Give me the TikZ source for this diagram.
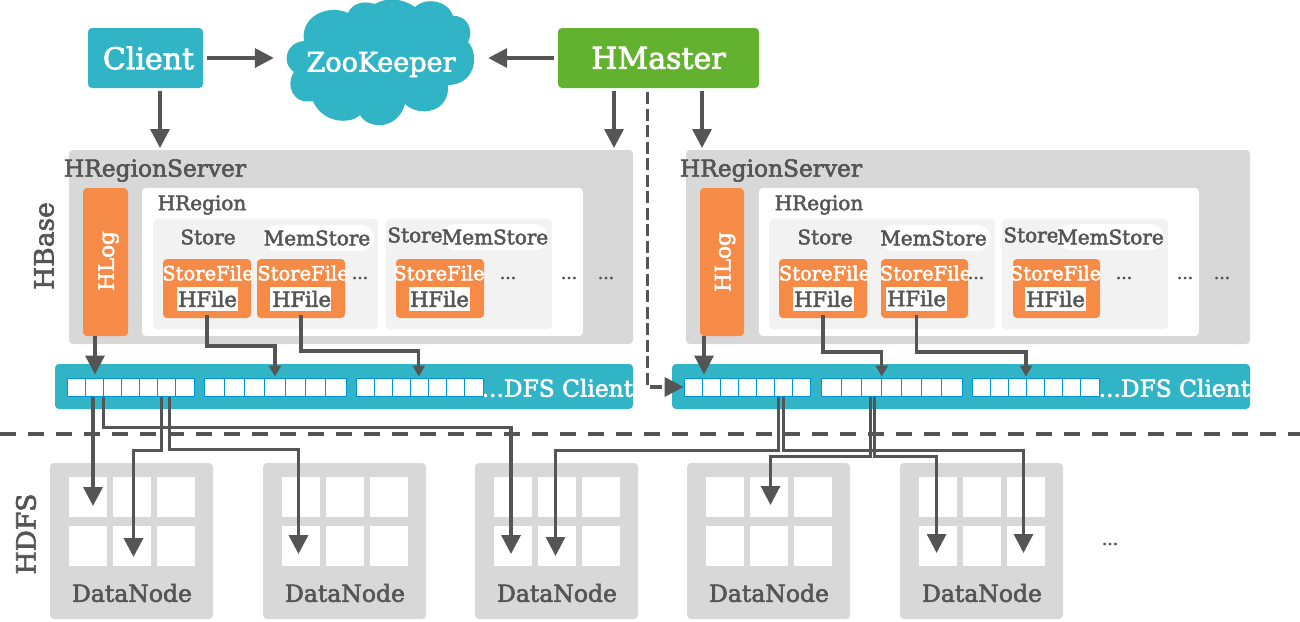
\documentclass[tikz,border=0pt]{standalone}
\usepackage{fontspec}
\setmainfont{DejaVu Serif}[FakeBold=2.5]
\usetikzlibrary{arrows.meta}
\definecolor{teal}{HTML}{31B4C6}
\definecolor{leaf}{HTML}{62B22F}
\definecolor{tang}{HTML}{F58B47}
\definecolor{box}{HTML}{D8D8D8}
\definecolor{pale}{HTML}{F2F2F2}
\definecolor{ink}{HTML}{555555}
\definecolor{wire}{HTML}{0095D9}
\newcommand{\sz}[1]{\fontsize{#1}{#1}\selectfont}

\begin{document}
\begin{tikzpicture}[x=1pt,y=-1pt]

		\useasboundingbox (0,0) rectangle (1300,621);
		\tikzset{block/.style = {shape=rectangle,rounded corners=4pt,inner sep=0pt,outer sep=0pt}}
		\tikzset{tag/.style = {inner sep=0pt,outer sep=0pt,text=ink}}
		\tikzset{server/.style = {block,fill=box,minimum width=564pt,minimum height=194pt}}
		\tikzset{hlog/.style = {block,fill=tang,text=white,font=\sz{21.5},minimum height=148pt}}
		\tikzset{region/.style = {block,fill=white,minimum height=148pt}}
		\tikzset{store/.style = {block,fill=pale,minimum height=110pt}}
		\tikzset{mem/.style = {shape=rectangle,rounded corners=13pt,inner sep=0pt,fill=white,text=ink,font=\sz{20},minimum height=26pt}}
		\tikzset{sfile/.style = {block,fill=tang,minimum height=59pt}}
		\tikzset{sftag/.style = {tag,text=white,font=\sz{19.5}}}
		\tikzset{hfile/.style = {inner sep=0pt,fill=white,text=ink,font=\sz{21},minimum width=61pt,minimum height=24pt}}
		\tikzset{dfs/.style = {block,fill=teal,minimum width=578pt,minimum height=45pt}}
		\tikzset{cell/.style = {shape=rectangle,draw=wire,line width=1pt,fill=white,inner sep=0pt,minimum height=18pt}}
		\tikzset{cella/.style = {cell,minimum width=18.1pt}}
		\tikzset{cellb/.style = {cell,minimum width=20.2pt}}
		\tikzset{datanode/.style = {block,fill=box,minimum width=163pt,minimum height=156pt}}
		\tikzset{slot/.style = {shape=rectangle,fill=white,inner sep=0pt,minimum width=38pt,minimum height=40pt}}
		\tikzset{edge/.style = {-{Triangle[width=19pt,length=19pt]},ink,line width=3.5pt}}
		\tikzset{route/.style = {edge,line width=3pt}}
		\tikzset{small/.style = {-{Triangle[width=12pt,length=11pt]},ink,line width=3.3pt}}
		% top row
		\node[block, fill = teal, text=white, font=\sz{30}, minimum width=115pt, minimum height=60pt] (client) at (145.5,58) {\hspace*{6pt}\raisebox{-1pt}{Client}};
		\node[block, fill = leaf, text=white, font=\sz{30}, minimum width=201pt, minimum height=60pt] (hmaster) at (658.5,58) {HMaster};
		\fill[teal] (304,41) .. controls (287,42) and (280,62) .. (294,72)
			.. controls (285,85) and (293,105) .. (313,101)
			.. controls (322,123) and (350,125) .. (360,115)
			.. controls (368,130) and (398,130) .. (405,104)
			.. controls (420,118) and (450,112) .. (448,85)
			.. controls (475,85) and (480,55) .. (468,42)
			.. controls (475,28) and (465,15) .. (453,16)
			.. controls (448,0) and (425,-3) .. (415,7)
			.. controls (400,-3) and (385,-2) .. (375,4)
			.. controls (362,0) and (352,4) .. (348,13)
			.. controls (330,4) and (300,15) .. (304,41) -- cycle;
		\node[inner sep=0pt, text=white, font=\sz{27}, minimum width=214pt] (zookeeper) at (381,64.5) {ZooKeeper};
		% First server
		\node[server] (hrs1) at (351,247) {};
		\node[tag, font=\sz{23.3}] (hrs1t) at (155,170.5) {HRegionServer};
		\node[hlog, minimum width=45pt] (hlog1) at (105.5,262) {\hspace*{6pt}\raisebox{2pt}{\rotatebox{90}{HLog}}};
		\node[region, minimum width=441pt] (hreg1) at (362.5,262) {};
		\node[tag, font=\sz{20}] (hreg1t) at (202,205) {HRegion};
		\node[store, minimum width=225pt] (st11) at (265.5,274) {};
		\node[store, minimum width=166pt] (st12) at (469,274) {};
		\node[tag, font=\sz{20}] (st11t) at (208,237) {Store};
		\node[tag, font=\sz{20}] (st12t) at (415,235) {Store};
		\node[mem, minimum width=102pt] (mem11) at (319,238) {MemStore\hspace*{4pt}};
		\node[mem, minimum width=102pt] (mem12) at (495,237) {MemStore};
		\node[sfile, minimum width=88pt] (sf11) at (207,288.5) {};
		\node[sfile, minimum width=88pt] (sf12) at (301,288.5) {};
		\node[sfile, minimum width=88pt] (sf13) at (440,288.5) {};
		\node[sftag] (sf11t) at (208,273) {StoreFile};
		\node[sftag] (sf12t) at (303,273) {StoreFile};
		\node[sftag] (sf13t) at (439,273) {StoreFile};
		\node[hfile] (hf11) at (207.5,299) {\raisebox{-1.5pt}{HFile}};
		\node[hfile] (hf12) at (300.5,299) {\makebox[61pt][r]{\raisebox{-1.5pt}{HFile}}};
		\node[hfile] (hf13) at (439.5,299) {\raisebox{-1.5pt}{HFile}};
		\node[tag, font=\sz{17}] (dot11) at (360,278) {...};
		\node[tag, font=\sz{17}] (dot12) at (508,278) {...};
		\node[tag, font=\sz{17}] (dot13) at (569,278) {...};
		\node[tag, font=\sz{17}] (dot14) at (606,278) {...};
		% Second server
		\node[server] (hrs2) at (968,247) {};
		\node[tag, font=\sz{23.3}] (hrs2t) at (771,170.5) {HRegionServer};
		\node[hlog, minimum width=44pt] (hlog2) at (722,262) {\hspace*{6pt}\rotatebox{90}{HLog}};
		\node[region, minimum width=440pt] (hreg2) at (979,262) {};
		\node[tag, font=\sz{20}] (hreg2t) at (819,205) {HRegion};
		\node[store, minimum width=226pt] (st21) at (882,274) {};
		\node[store, minimum width=166pt] (st22) at (1085,274) {};
		\node[tag, font=\sz{20}] (st21t) at (825,237) {Store};
		\node[tag, font=\sz{20}] (st22t) at (1031,235) {Store};
		\node[mem, minimum width=105pt] (mem21) at (935.5,238) {MemStore\hspace*{4pt}};
		\node[mem, minimum width=105pt] (mem22) at (1110.5,237) {MemStore};
		\node[sfile, minimum width=88pt] (sf21) at (823,288.5) {};
		\node[sfile, minimum width=87pt] (sf22) at (924.5,288.5) {};
		\node[sfile, minimum width=87pt] (sf23) at (1056.5,288.5) {};
		\node[sftag] (sf21t) at (824.5,273) {StoreFile};
		\node[sftag] (sf22t) at (925.5,273) {StoreFile};
		\node[sftag] (sf23t) at (1055.5,273) {StoreFile};
		\node[hfile] (hf21) at (823.5,299) {HFile};
		\node[hfile] (hf22) at (916.5,299) {\raisebox{1.5pt}{HFile}};
		\node[hfile] (hf23) at (1055.5,299) {HFile};
		\node[tag, font=\sz{17}] (dot21) at (976,278) {...};
		\node[tag, font=\sz{17}] (dot22) at (1124,278) {...};
		\node[tag, font=\sz{17}] (dot23) at (1185,278) {...};
		\node[tag, font=\sz{17}] (dot24) at (1222,278) {...};
		% First client bar
		\node[dfs] (dfs1) at (344,386.5) {};
		\node[tag, text=white, font=\sz{23.3}, anchor=east] (dfs1t) at (633,388) {...DFS Client};
		\node[cella] (s11) at (77,387) {};
		\node[cella] (s12) at (95,387) {};
		\node[cella] (s13) at (113,387) {};
		\node[cella] (s14) at (131,387) {};
		\node[cella] (s15) at (149,387) {};
		\node[cella] (s16) at (167,387) {};
		\node[cella] (s17) at (185,387) {};
		\node[cellb] (s21) at (214.1,387) {};
		\node[cellb] (s22) at (234.4,387) {};
		\node[cellb] (s23) at (254.7,387) {};
		\node[cellb] (s24) at (275,387) {};
		\node[cellb] (s25) at (295.3,387) {};
		\node[cellb] (s26) at (315.6,387) {};
		\node[cellb] (s27) at (335.9,387) {};
		\node[cella] (s31) at (365.5,387) {};
		\node[cella] (s32) at (383.6,387) {};
		\node[cella] (s33) at (401.7,387) {};
		\node[cella] (s34) at (419.8,387) {};
		\node[cella] (s35) at (437.8,387) {};
		\node[cella] (s36) at (455.9,387) {};
		\node[cella] (s37) at (474,387) {};
		% Second client bar
		\node[dfs] (dfs2) at (961,386.5) {};
		\node[tag, text=white, font=\sz{23.3}, anchor=east] (dfs2t) at (1250,388) {...DFS Client};
		\node[cella] (t11) at (693.1,387) {};
		\node[cella] (t12) at (711.2,387) {};
		\node[cella] (t13) at (729.4,387) {};
		\node[cella] (t14) at (747.5,387) {};
		\node[cella] (t15) at (765.6,387) {};
		\node[cella] (t16) at (783.8,387) {};
		\node[cella] (t17) at (801.9,387) {};
		\node[cellb] (t21) at (831.5,387) {};
		\node[cellb] (t22) at (851.6,387) {};
		\node[cellb] (t23) at (871.7,387) {};
		\node[cellb] (t24) at (891.8,387) {};
		\node[cellb] (t25) at (911.8,387) {};
		\node[cellb] (t26) at (931.9,387) {};
		\node[cellb] (t27) at (952,387) {};
		\node[cella] (t31) at (981.5,387) {};
		\node[cella] (t32) at (999.6,387) {};
		\node[cella] (t33) at (1017.7,387) {};
		\node[cella] (t34) at (1035.8,387) {};
		\node[cella] (t35) at (1053.8,387) {};
		\node[cella] (t36) at (1071.9,387) {};
		\node[cella] (t37) at (1090,387) {};
		% data nodes
		\node[datanode] (dn1) at (131.5,541) {};
		\node[datanode] (dn2) at (344.5,541) {};
		\node[datanode] (dn3) at (556.5,541) {};
		\node[datanode] (dn4) at (768.5,541) {};
		\node[datanode] (dn5) at (981.5,541) {};
		\node[tag, font=\sz{23.5}] (dn1t) at (132,593) {DataNode};
		\node[tag, font=\sz{23.5}] (dn2t) at (345,593) {DataNode};
		\node[tag, font=\sz{23.5}] (dn3t) at (557,593) {DataNode};
		\node[tag, font=\sz{23.5}] (dn4t) at (769,593) {DataNode};
		\node[tag, font=\sz{23.5}] (dn5t) at (982,593) {DataNode};
		\node[slot] (a111) at (88,497) {};
		\node[slot] (a112) at (132,497) {};
		\node[slot] (a113) at (176,497) {};
		\node[slot] (a121) at (88,546) {};
		\node[slot] (a122) at (132,546) {};
		\node[slot] (a123) at (176,546) {};
		\node[slot] (a211) at (301,497) {};
		\node[slot] (a212) at (345,497) {};
		\node[slot] (a213) at (389,497) {};
		\node[slot] (a221) at (301,546) {};
		\node[slot] (a222) at (345,546) {};
		\node[slot] (a223) at (389,546) {};
		\node[slot] (a311) at (513,497) {};
		\node[slot] (a312) at (557,497) {};
		\node[slot] (a313) at (601,497) {};
		\node[slot] (a321) at (513,546) {};
		\node[slot] (a322) at (557,546) {};
		\node[slot] (a323) at (601,546) {};
		\node[slot] (a411) at (725,497) {};
		\node[slot] (a412) at (769,497) {};
		\node[slot] (a413) at (813,497) {};
		\node[slot] (a421) at (725,546) {};
		\node[slot] (a422) at (769,546) {};
		\node[slot] (a423) at (813,546) {};
		\node[slot] (a511) at (938,497) {};
		\node[slot] (a512) at (982,497) {};
		\node[slot] (a513) at (1026,497) {};
		\node[slot] (a521) at (938,546) {};
		\node[slot] (a522) at (982,546) {};
		\node[slot] (a523) at (1026,546) {};
		\node[tag, font=\sz{17}] (dotdn) at (1110,544) {...};
		% side labels
		\node[tag, font=\sz{26.5}] (hbase) at (44,246) {\rotatebox{90}{HBase}};
		\node[tag, font=\sz{26.5}] (hdfs) at (26,534) {\rotatebox{90}{HDFS}};
		\coordinate (sepl) at (0,434);
		\coordinate (sepr) at (1300,434);
		\draw[ink, line width=4pt, dash pattern=on 16pt off 12pt] (sepl) -- (sepr);

		%edges
		% top edges
		\draw[edge, shorten <=4pt] (client.east) -- ([yshift=6.5pt]zookeeper.west);
		\draw[edge, shorten <=4pt] (hmaster.west) -- ([yshift=6.5pt]zookeeper.east);
		\draw[edge, shorten <=3pt, shorten >=2pt] ([xshift=14.5pt]client.south) -- ([xshift=-191pt]hrs1.north);
		\draw[edge, shorten <=3pt, shorten >=2pt] ([xshift=-44.5pt]hmaster.south) -- ([xshift=263pt]hrs1.north);
		\draw[edge, shorten <=3pt, shorten >=2pt] ([xshift=43.5pt]hmaster.south) -- ([xshift=-266pt]hrs2.north);
		\draw[edge, shorten <=4pt, dash pattern=on 12pt off 4.5pt] ([xshift=-11pt]hmaster.south) |- (t11.west);
		% log edges
		\draw[edge] ([xshift=-10.5pt]hlog1.south) -- ([yshift=3pt]s12.north);
		\draw[edge] ([xshift=-18pt]hlog2.south) -- ([xshift=-7.2pt,yshift=3pt]t12.north);
		% store edges
		\draw[small] ([yshift=3pt]sf11.south) -- ++(0,31) -| ([yshift=1pt]s24.north);
		\draw[small] ([yshift=3pt]sf12.south) -- ++(0,36) -| ([xshift=-1pt,yshift=1pt]s34.north);
		\draw[small] ([yshift=3pt]sf21.south) -- ++(0,37) -| ([xshift=-10pt,yshift=1pt]t24.north);
		\draw[small] ([xshift=-7.7pt,yshift=3pt]sf22.south) -- ++(0,37) -| ([xshift=8.3pt,yshift=1pt]t33.north);
		% First block edges
		\draw[edge] ([xshift=-2pt]s12.south) -- ([xshift=5pt,yshift=-9pt]a111.center);
		\draw[edge] ([xshift=8.7pt]s12.south) -- ++(0,31) -| ([xshift=-2pt,yshift=-8pt]a321.center);
		\draw[edge] ([xshift=-5.3pt]s16.south) -- ++(0,54) -| ([xshift=1.5pt,yshift=-11pt]a122.center);
		\draw[edge] ([xshift=2.6pt]s16.south) -- ++(0,53) -| ([xshift=-2.5pt,yshift=-8pt]a221.center);
		% Second block edges
		\draw[route] ([xshift=-5.3pt]t16.south) -- ++(0,54) -| ([xshift=-1.5pt,yshift=-10pt]a322.center);
		\draw[route] ([xshift=-0.3pt]t16.south) -- ++(0,54) -| ([xshift=-2.5pt,yshift=-7pt]a523.center);
		\draw[route] ([xshift=-1pt]t23.south) -- ++(0,60) -| ([xshift=1.5pt,yshift=-8pt]a412.center);
		\draw[route] ([xshift=2.6pt]t23.south) -- ++(0,60) -| ([xshift=-1.4pt,yshift=-7pt]a521.center);

		\end{tikzpicture}
\end{document}
